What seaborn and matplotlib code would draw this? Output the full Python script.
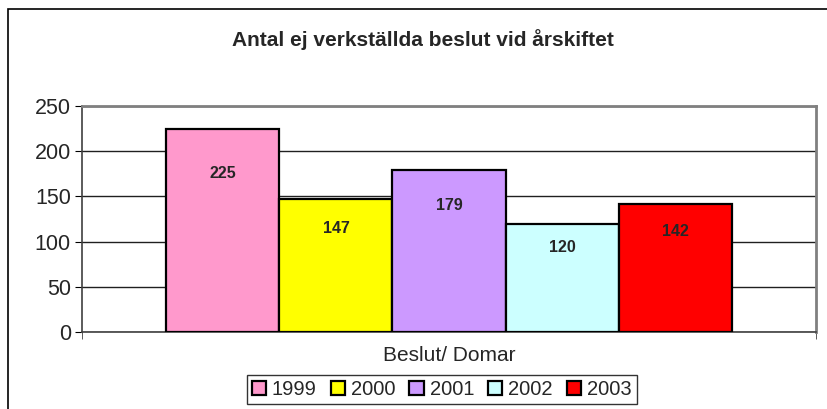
import pandas as pd
import matplotlib
matplotlib.use("Agg")
import matplotlib.pyplot as plt
from matplotlib.patches import Rectangle
import seaborn as sns

sns.set_style("white")
plt.rcParams['font.family'] = ['Liberation Sans', 'DejaVu Sans']

# data
years = ["1999", "2000", "2001", "2002", "2003"]
values = [225, 147, 179, 120, 142]
category = "Beslut/ Domar"
colors = ["#FF99CC", "#FFFF00", "#CC99FF", "#CCFFFF", "#FF0000"]

df = pd.DataFrame({"kategori": [category] * len(years), "år": years, "antal": values})

fig = plt.figure(figsize=(8.28, 4.09), dpi=100)
ax = fig.add_axes([82 / 828, 77 / 409, 734 / 828, 226 / 409])

sns.barplot(data=df, x="kategori", y="antal", hue="år", palette=colors,
            width=0.77, edgecolor="black", linewidth=1.6, saturation=1,
            ax=ax, legend=True, zorder=3)

# värden inne i staplarna
for cont, v in zip(ax.containers, values):
    bar = cont[0]
    ax.text(bar.get_x() + bar.get_width() / 2, v * 0.78, str(v),
            ha="center", va="center", fontsize=11.5, fontweight="bold", zorder=4)

ax.set_ylim(0, 250)
ax.set_xlim(-0.5, 0.5)
ax.set_yticks(range(0, 251, 50))
ax.tick_params(axis="y", labelsize=15.5, length=5, direction="out", color="black", left=True, pad=3)
ax.tick_params(axis="x", labelsize=15, length=0, pad=10)
ax.set_xticks([-0.5, 0.5], minor=True)
ax.tick_params(axis="x", which="minor", length=5, direction="out", bottom=True, color="#404040")
ax.set_xlabel("")
ax.set_ylabel("")
ax.yaxis.grid(True, color="#202020", linewidth=1, zorder=0)
ax.set_axisbelow(True)

for side in ["top", "right"]:
    ax.spines[side].set_color("#808080")
    ax.spines[side].set_linewidth(2)
for side in ["left", "bottom"]:
    ax.spines[side].set_color("#404040")
    ax.spines[side].set_linewidth(1.2)

fig.text(423 / 828, 1 - 40 / 409, "Antal ej verkställda beslut vid årskiftet",
         ha="center", va="center", fontsize=15, fontweight="bold")

handles, labels = ax.get_legend_handles_labels()
ax.legend(handles, labels, loc="upper center", bbox_to_anchor=(0.49, -0.19),
          ncol=5, frameon=True, fancybox=False, edgecolor="black", fontsize=14.5,
          handlelength=0.7, handleheight=0.7, handletextpad=0.3, columnspacing=0.7,
          borderpad=0.25, borderaxespad=0)
leg = ax.get_legend()
leg.get_frame().set_linewidth(1)
for h in leg.legend_handles:
    h.set_linewidth(1.6)
    h.set_edgecolor("black")

# ram runt diagrammet
fig.patches.append(Rectangle((8 / 828, -0.2), 1.2, 1.2 - 9 / 409,
                             transform=fig.transFigure, fill=False,
                             edgecolor="black", linewidth=1.2))

fig.savefig("out.png", dpi=100)
